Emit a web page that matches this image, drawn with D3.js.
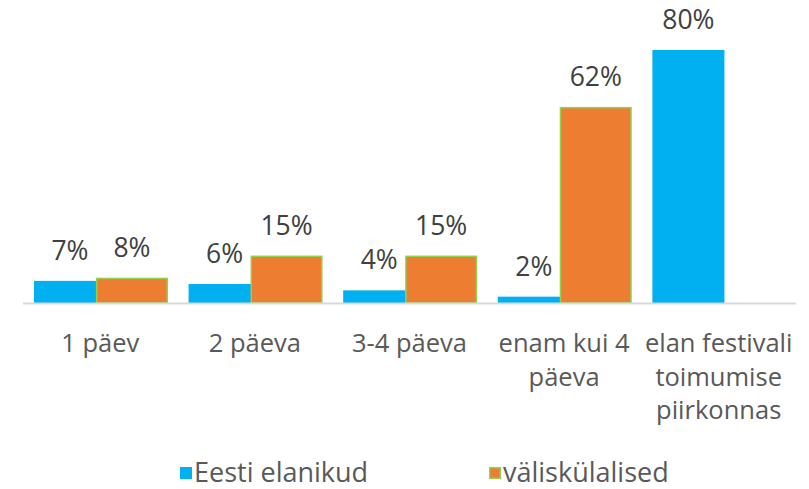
<!DOCTYPE html>
<html>
<head>
<meta charset="utf-8">
<script src="https://cdn.jsdelivr.net/npm/d3@7"></script>
<style>
  html, body { margin: 0; padding: 0; background: #fff; }
  svg { display: block; font-family: "Open Sans", sans-serif; }
</style>
</head>
<body>
<svg id="chart" width="809" height="489"></svg>
<script>
// Stay length at the festival, by visitor group (%)
const categories = ["1 päev", "2 päeva", "3-4 päeva", "enam kui 4 päeva", "elan festivali toimumise piirkonnas"];
const categoryLines = [["1 päev"], ["2 päeva"], ["3-4 päeva"], ["enam kui 4", "päeva"], ["elan festivali", "toimumise", "piirkonnas"]];
const seriesNames = ["Eesti elanikud", "väliskülalised"];
const eestiElanikud = [7, 6, 4, 2, 80];
const valiskulalised = [8, 15, 15, 62, null];
const seriesValues = [eestiElanikud, valiskulalised];

const colors = ["#00B0F0", "#ED7D31"];
const orangeBorder = "#92D050";

const svg = d3.select("#chart");
const axisY = 303;

const x = d3.scaleBand().domain(categories).range([23, 796]).padding(0);
const y = d3.scaleLinear().domain([0, 80]).range([axisY, 50]);

const bw = x.bandwidth();
const barW = bw * 0.466;
// series offset within each category (bars overlap slightly)
const xs = d3.scaleOrdinal().domain(seriesNames).range([bw * 0.071, bw * 0.071 + barW * 0.86]);

const rows = [];
categories.forEach((c, i) => {
  seriesNames.forEach((s, j) => {
    const v = seriesValues[j][i];
    if (v != null) rows.push({ cat: c, series: s, j, value: v });
  });
});

// bars: blue first, orange over it
const gBars = svg.append("g");
gBars.selectAll("rect")
  .data(rows.sort((a, b) => a.j - b.j))
  .join("rect")
  .attr("x", d => x(d.cat) + xs(d.series) + (d.j === 1 ? 0.75 : 0))
  .attr("y", d => y(d.value) + (d.j === 1 ? 0.75 : 0))
  .attr("width", d => barW - (d.j === 1 ? 1.5 : 0))
  .attr("height", d => axisY - y(d.value) - (d.j === 1 ? 0.75 : 0))
  .attr("fill", d => colors[d.j])
  .attr("stroke", d => d.j === 1 ? orangeBorder : "none")
  .attr("stroke-width", 1.5);

// category axis line
svg.append("line")
  .attr("x1", 23).attr("x2", 796)
  .attr("y1", axisY + 0.5).attr("y2", axisY + 0.5)
  .attr("stroke", "#d9d9d9").attr("stroke-width", 2);

// value labels
svg.append("g").selectAll("text")
  .data(rows)
  .join("text")
  .attr("x", d => x(d.cat) + xs(d.series) + barW / 2)
  .attr("y", d => y(d.value) - 21)
  .attr("text-anchor", "middle")
  .attr("font-size", 26.5)
  .attr("fill", "#404040")
  .text(d => d.value + "%");

// category labels
const gCat = svg.append("g");
categories.forEach((c, i) => {
  const t = gCat.append("text")
    .attr("x", x(c) + bw / 2)
    .attr("y", 352)
    .attr("text-anchor", "middle")
    .attr("font-size", 25.5)
    .attr("fill", "#595959");
  categoryLines[i].forEach((line, k) => {
    t.append("tspan")
      .attr("x", x(c) + bw / 2)
      .attr("y", 352 + k * 33.5)
      .text(line);
  });
});

// legend
const legendX = [180, 489];
const gLeg = svg.append("g");
seriesNames.forEach((s, j) => {
  gLeg.append("rect")
    .attr("x", legendX[j] + (j === 1 ? 0.75 : 0))
    .attr("y", 467 + (j === 1 ? 0.75 : 0))
    .attr("width", 12 - (j === 1 ? 1.5 : 0))
    .attr("height", 12 - (j === 1 ? 1.5 : 0))
    .attr("fill", colors[j])
    .attr("stroke", j === 1 ? orangeBorder : "none")
    .attr("stroke-width", 1.5);
  gLeg.append("text")
    .attr("x", legendX[j] + 14)
    .attr("y", 482)
    .attr("font-size", 27)
    .attr("fill", "#595959")
    .text(s);
});
</script>
</body>
</html>
